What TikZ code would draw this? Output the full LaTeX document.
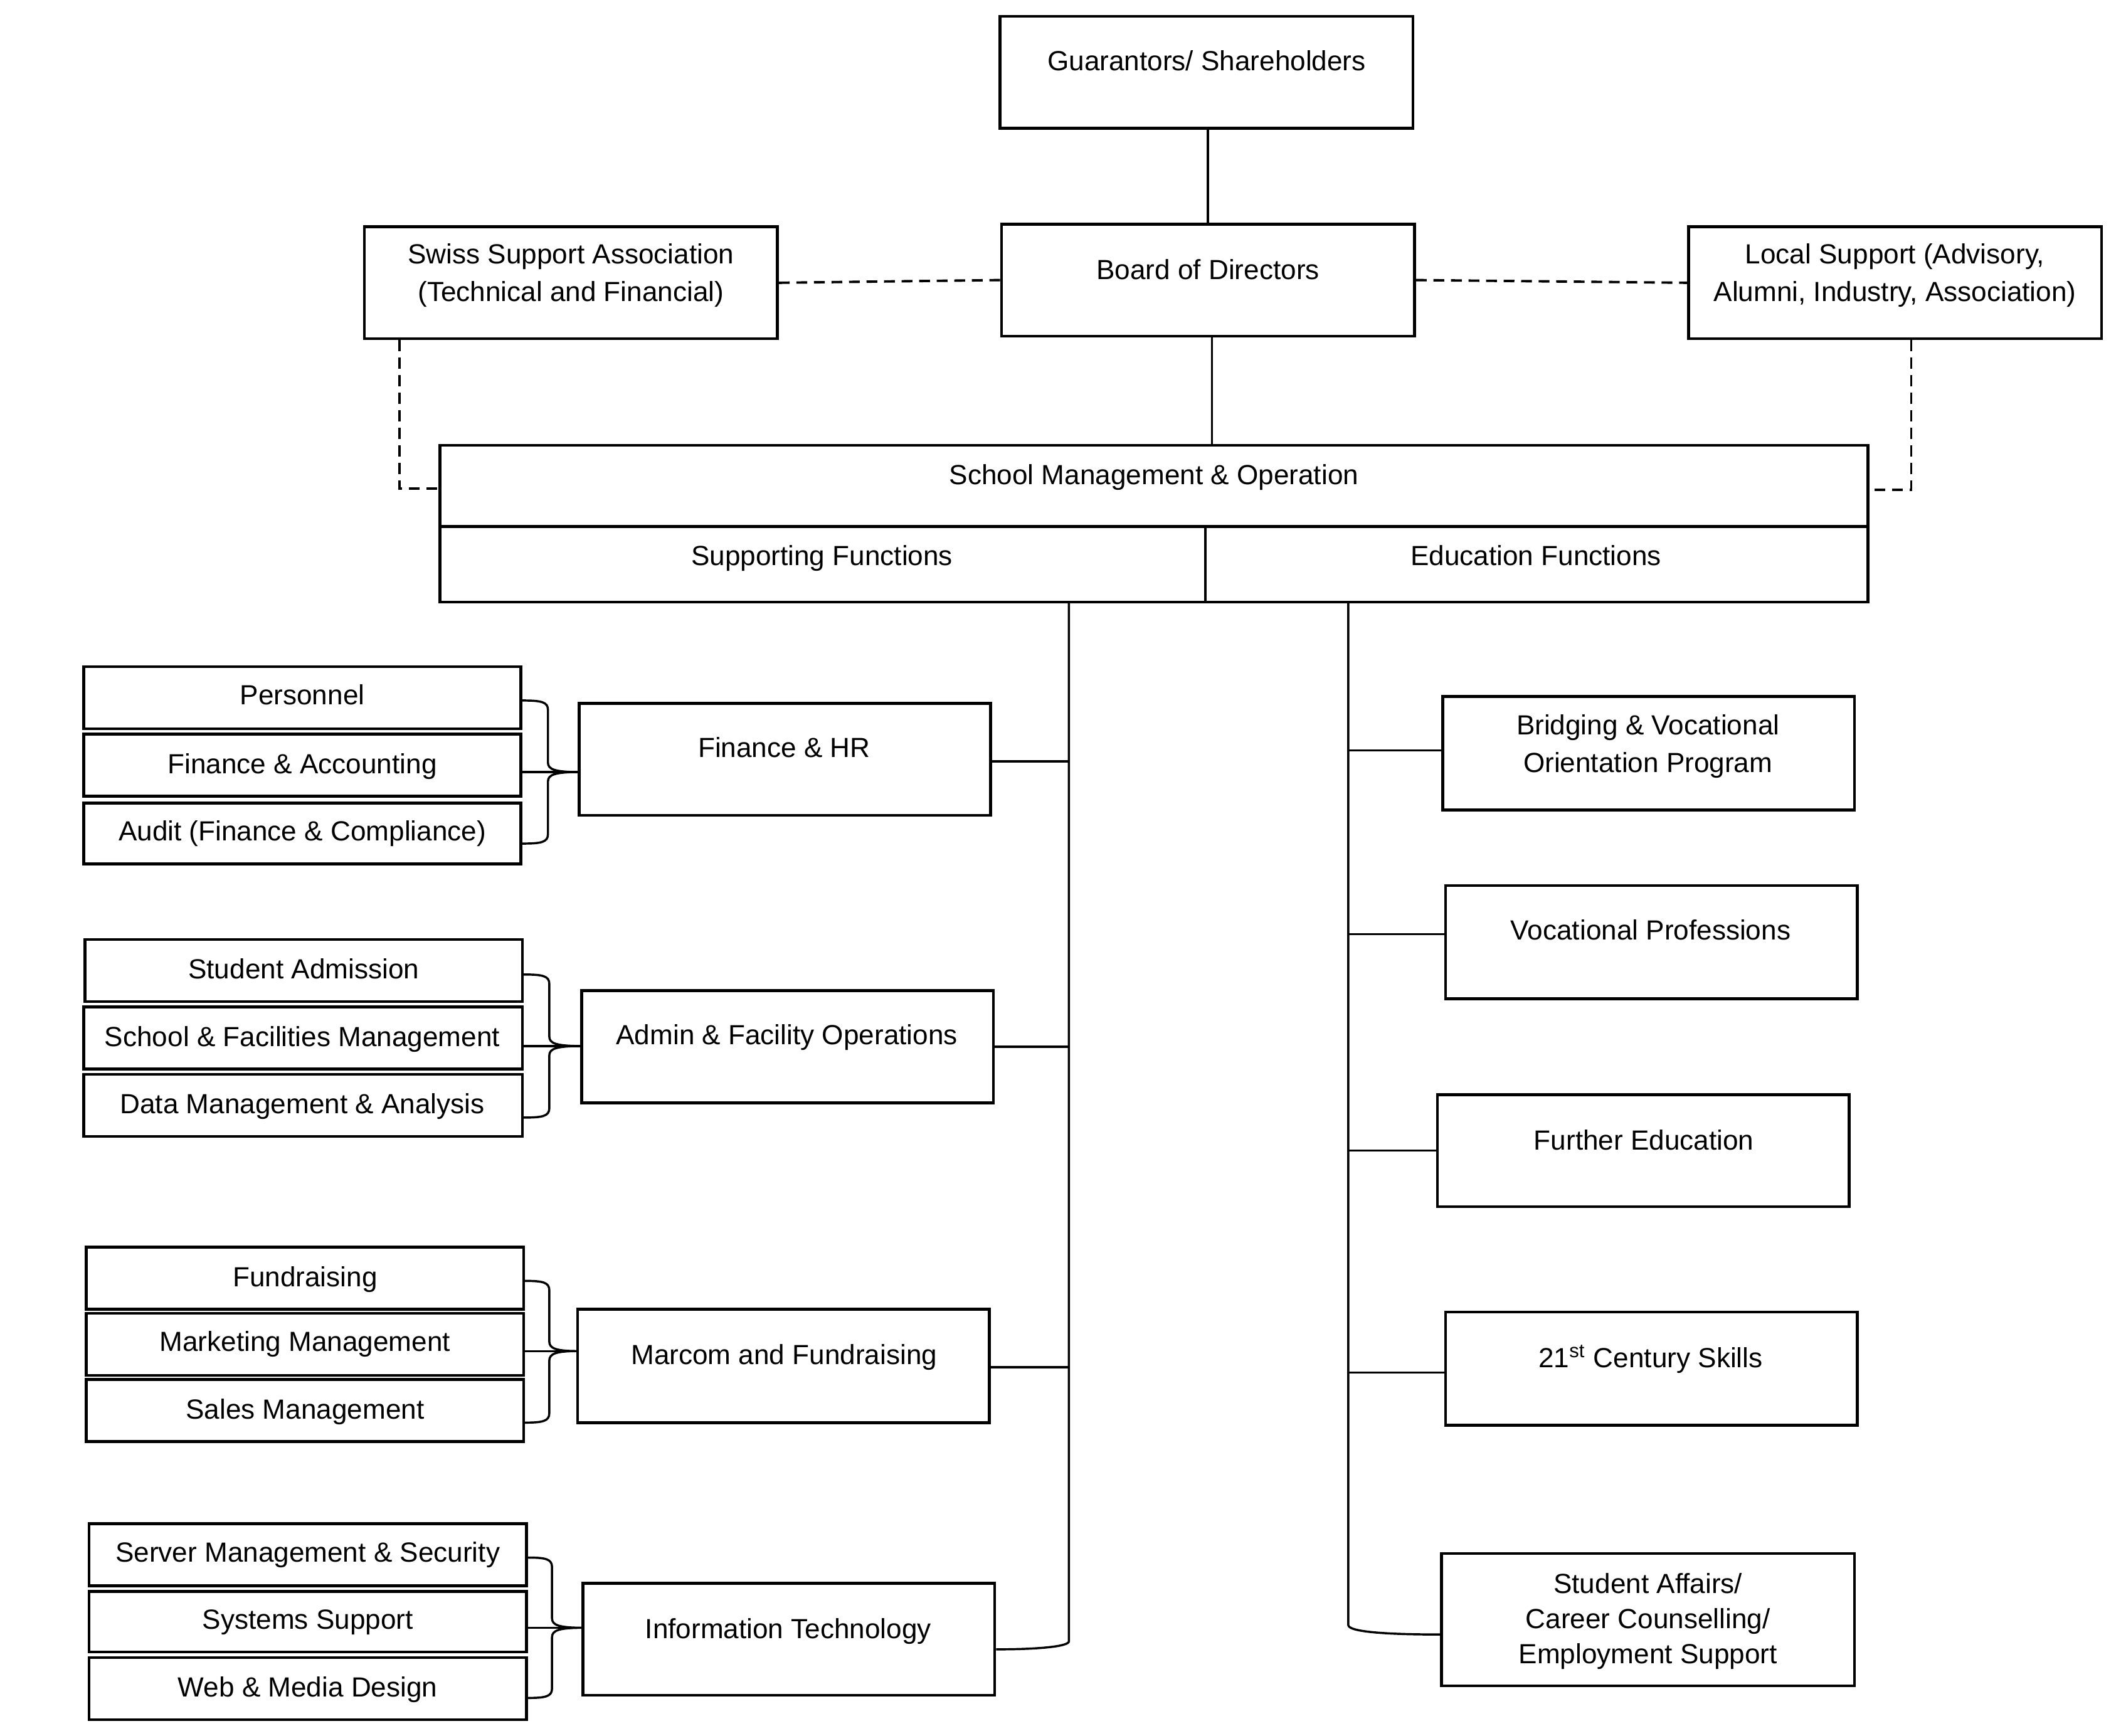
\documentclass[tikz,border=0pt]{standalone}
\usepackage{fontspec}
\setmainfont{Liberation Sans}
\usetikzlibrary{fit}
\newcommand{\grpbrace}[6]{%
  \draw[conn] (#1,#3) .. controls (#2-5,#3) and (#2,#3+1) .. (#2,#3+7)
    -- (#2,#4-7) .. controls (#2,#4-2) and (#2+5,#4) .. (#6,#4)
    .. controls (#2+5,#4) and (#2,#4+2) .. (#2,#4+7)
    -- (#2,#5-7) .. controls (#2,#5-1) and (#2-5,#5) .. (#1,#5);}
\begin{document}
\begin{tikzpicture}[x=0.5pt,y=-0.5pt,
  box/.style={draw, line width=1.05pt, inner sep=0pt},
  txt/.style={font=\fontsize{10.25}{13}\selectfont, align=center, inner sep=0pt, text height=7.5pt, text depth=2pt, yshift=-0.8pt},
  txtm/.style={font=\fontsize{10.25}{#1}\selectfont, align=center, inner sep=0pt},
  conn/.style={line width=0.8pt},
  dsh/.style={line width=0.9pt, dash pattern=on 4pt off 2.5pt}]
\useasboundingbox (0,0) rectangle (1567.8,1285.8);

% top boxes
\node[box, fit={(741,12)(1047,95)}] (gs) {};
\node[box, fit={(742,166)(1048,249)}] (bod) {};
\node[box, fit={(270,168)(576,251)}] (ssa) {};
\node[box, fit={(1251,168)(1557,251)}] (ls) {};
\node[box, fit={(326,330)(1384,390)}] (smo) {};
\node[box, fit={(326,390)(893,446)}] (sf) {};
\node[box, fit={(893,390)(1384,446)}] (ef) {};

\node[txt] (gsT) at (894,45) {Guarantors/ Shareholders};
\node[txt] (bodT) at (895,200) {Board of Directors};
\node[txtm=14] (ssaT) at (423,204) {Swiss Support Association\\(Technical and Financial)};
\node[txtm=14] (lsT) at (1404,204) {Local Support (Advisory,\\Alumni, Industry, Association)};
\node[txt] (smoT) at (855,352) {School Management \& Operation};
\node[txt] (sfT) at (609,412) {Supporting Functions};
\node[txt] (efT) at (1138,412) {Education Functions};

% supporting function boxes
\node[box, fit={(429,521)(734,604)}] (fhr) {};
\node[box, fit={(431,734)(736,817)}] (adm) {};
\node[box, fit={(428,970)(733,1054)}] (mar) {};
\node[box, fit={(432,1173)(737,1256)}] (it) {};
\node[txt] (fhrT) at (581,554) {Finance \& HR};
\node[txt] (admT) at (583,767) {Admin \& Facility Operations};
\node[txt] (marT) at (581,1004) {Marcom and Fundraising};
\node[txt] (itT) at (584,1207) {Information Technology};

% education function boxes
\node[box, fit={(1069,516)(1374,600)}] (bvo) {};
\node[box, fit={(1071,656)(1376,740)}] (vp) {};
\node[box, fit={(1065,811)(1370,894)}] (fe) {};
\node[box, fit={(1071,972)(1376,1056)}] (cs) {};
\node[box, fit={(1068,1151)(1374,1249)}] (sa) {};
\node[txtm=14] (bvoT) at (1221,553) {Bridging \& Vocational\\Orientation Program};
\node[txt] (vpT) at (1223,689) {Vocational Professions};
\node[txt] (feT) at (1218,845) {Further Education};
\node[txt] (csT) at (1223,1006) {21\textsuperscript{st} Century Skills};
\node[txtm=13] (saT) at (1221,1201) {Student Affairs/\\Career Counselling/\\Employment Support};

% sub-unit boxes
\node[box, fit={(62,494)(386,540)}] (pers) {};
\node[box, fit={(62,544)(386,590)}] (fa) {};
\node[box, fit={(62,595)(386,640)}] (aud) {};
\node[box, fit={(63,696)(387,742)}] (sadm) {};
\node[box, fit={(62,746)(387,792)}] (sfm) {};
\node[box, fit={(62,796)(387,842)}] (dma) {};
\node[box, fit={(64,924)(388,970)}] (fund) {};
\node[box, fit={(64,973)(388,1019)}] (mm) {};
\node[box, fit={(64,1022)(388,1068)}] (sm) {};
\node[box, fit={(66,1129)(390,1175)}] (sms) {};
\node[box, fit={(66,1179)(390,1224)}] (sys) {};
\node[box, fit={(66,1228)(390,1274)}] (wmd) {};
\node[txt] (persT) at (224,515) {Personnel};
\node[txt] (faT) at (224,566) {Finance \& Accounting};
\node[txt] (audT) at (224,616) {Audit (Finance \& Compliance)};
\node[txt] (sadmT) at (225,718) {Student Admission};
\node[txt] (sfmT) at (224,768) {School \& Facilities Management};
\node[txt] (dmaT) at (224,818) {Data Management \& Analysis};
\node[txt] (fundT) at (226,946) {Fundraising};
\node[txt] (mmT) at (226,994) {Marketing Management};
\node[txt] (smT) at (226,1044) {Sales Management};
\node[txt] (smsT) at (228,1150) {Server Management \& Security};
\node[txt] (sysT) at (228,1200) {Systems Support};
\node[txt] (wmdT) at (228,1250) {Web \& Media Design};

% top connectors
\draw[conn] (gs.south -| bod.north) -- (bod.north);
\draw[conn] ([xshift=1.5pt]bod.south) -- ([xshift=1.5pt]bod.south |- smo.north);
\draw[dsh] (ssa.east) -- (bod.west);
\draw[dsh] (bod.east) -- (ls.west);
\draw[dsh] ([xshift=13.5pt]ssa.south west) |- ([yshift=-1pt]smo.west);
\draw[dsh] ([xshift=-71pt]ls.south east) |- ([yshift=-1.5pt]smo.east);

% trunks
\coordinate (trS) at (792,446);
\coordinate (trE) at (999,446);
\draw[conn] (trS) -- ++(0,770) .. controls +(0,4) and +(30,0) .. ([yshift=-3.75pt]it.east);
\draw[conn] (trE) -- ++(0,758) .. controls +(0,5) and +(-40,0) .. ([yshift=-5.5pt]sa.west);

\draw[conn] ([yshift=-0.75pt]fhr.east) -- ([yshift=-0.75pt]fhr.east -| trS);
\draw[conn] (adm.east) -- (adm.east -| trS);
\draw[conn] ([yshift=-0.5pt]mar.east) -- ([yshift=-0.5pt]mar.east -| trS);

\draw[conn] ([yshift=1pt]bvo.west) -- ([yshift=1pt]bvo.west -| trE);
\draw[conn] ([yshift=3pt]vp.west) -- ([yshift=3pt]vp.west -| trE);
\draw[conn] (fe.west) -- (fe.west -| trE);
\draw[conn] ([yshift=-1.5pt]cs.west) -- ([yshift=-1.5pt]cs.west -| trE);

% group connectors
\draw[conn] ([yshift=-2.5pt]fa.east) -- ([yshift=-2.5pt]fa.east -| fhr.west);
\draw[conn] ([yshift=-3pt]sfm.east) -- ([yshift=-3pt]sfm.east -| adm.west);
\draw[conn] ([yshift=-2.5pt]mm.east) -- ([yshift=-2.5pt]mm.east -| mar.west);
\draw[conn] ([yshift=-2.25pt]sys.east) -- ([yshift=-2.25pt]sys.east -| it.west);

% braces
\grpbrace{387}{406}{519}{572}{625}{429}
\grpbrace{388}{407}{722}{775}{828}{431}
\grpbrace{389}{407}{949}{1001}{1054}{428}
\grpbrace{391}{409}{1154}{1206}{1258}{432}
\end{tikzpicture}
\end{document}
